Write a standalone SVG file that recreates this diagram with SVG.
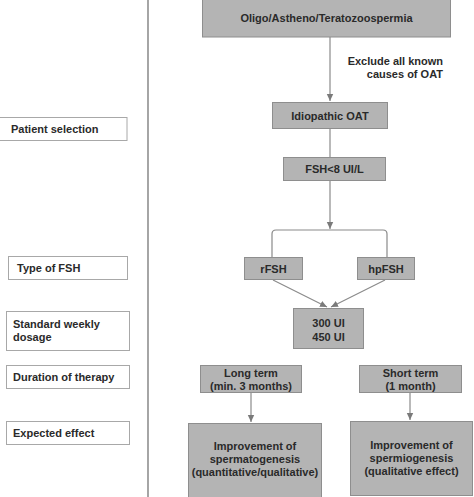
<svg xmlns="http://www.w3.org/2000/svg" width="474" height="497" viewBox="0 0 474 497">
<style>
.g{fill:#b4b4b4;stroke:#8e8e8e;stroke-width:1}
.w{fill:#fff;stroke:#a8a8a8;stroke-width:1}
text{font-family:"Liberation Sans",Arial,sans-serif;font-weight:bold;font-size:11px;fill:#2a2a2a}
.c{text-anchor:middle}
.e{fill:none;stroke:#8a8a8a;stroke-width:1.2}
</style>
<defs>
<marker id="ah" markerWidth="8" markerHeight="8" refX="7" refY="4" orient="auto" markerUnits="userSpaceOnUse">
<path d="M0,0.8 L7,4 L0,7.2 Z" fill="#7a7a7a"/>
</marker>
</defs>
<rect width="474" height="497" fill="#fff"/>
<line x1="148" y1="0" x2="148" y2="497" stroke="#6a6a6a" stroke-width="1.2"/>
<g id="connectors">
<line class="e" x1="330" y1="37" x2="330" y2="101" marker-end="url(#ah)"/>
<line class="e" x1="330" y1="129" x2="330" y2="157"/>
<line class="e" x1="330" y1="181" x2="330" y2="229" marker-end="url(#ah)"/>
<path class="e" d="M272,257 V234 Q272,230 276,230 H383 Q387,230 387,234 V257"/>
<line class="e" x1="273" y1="280" x2="327" y2="307" marker-end="url(#ah)"/>
<line class="e" x1="385" y1="280" x2="331" y2="307" marker-end="url(#ah)"/>
<line class="e" x1="251" y1="393" x2="251" y2="422" marker-end="url(#ah)"/>
<line class="e" x1="410" y1="393" x2="410" y2="420" marker-end="url(#ah)"/>
<text x="443" y="65" text-anchor="end">Exclude all known</text>
<text x="443" y="78" text-anchor="end">causes of OAT</text>
</g>
<g id="n-oat"><rect class="g" x="202.5" y="-1" width="248" height="38"/><text class="c" x="326.5" y="22">Oligo/Astheno/Teratozoospermia</text></g>
<g id="n-idio"><rect class="g" x="272.5" y="102.5" width="115" height="26"/><text class="c" x="330" y="119.5">Idiopathic OAT</text></g>
<g id="n-fsh"><rect class="g" x="283.5" y="157.5" width="102" height="23"/><text class="c" x="334.5" y="172.5">FSH&lt;8 UI/L</text></g>
<g id="n-rfsh"><rect class="g" x="244.5" y="257.5" width="58" height="22"/><text class="c" x="273.5" y="272.5">rFSH</text></g>
<g id="n-hpfsh"><rect class="g" x="357.5" y="257.5" width="57" height="22"/><text class="c" x="386" y="272.5">hpFSH</text></g>
<g id="n-dose"><rect class="g" x="293.5" y="308.5" width="70" height="40"/><text class="c" x="328.5" y="327">300 UI</text><text class="c" x="328.5" y="340.5">450 UI</text></g>
<g id="n-long"><rect class="g" x="200.5" y="365.5" width="101" height="27"/><text class="c" x="251" y="376.5">Long term</text><text class="c" x="251" y="389.5">(min. 3 months)</text></g>
<g id="n-short"><rect class="g" x="359.5" y="365.5" width="102" height="27"/><text class="c" x="410.5" y="376.5">Short term</text><text class="c" x="410.5" y="389.5">(1 month)</text></g>
<g id="n-eff1"><rect class="g" x="188.5" y="423.5" width="133" height="75"/><text class="c" x="255" y="450">Improvement of</text><text class="c" x="255" y="463">spermatogenesis</text><text class="c" x="255" y="476">(quantitative/qualitative)</text></g>
<g id="n-eff2"><rect class="g" x="350.5" y="421.5" width="122" height="74"/><text class="c" x="411.5" y="449">Improvement of</text><text class="c" x="411.5" y="462">spermiogenesis</text><text class="c" x="411.5" y="475">(qualitative effect)</text></g>
<g id="l-patient"><rect class="w" x="-1" y="117.5" width="128" height="23"/><text x="11" y="132.5">Patient selection</text></g>
<g id="l-type"><rect class="w" x="8.5" y="256.5" width="119" height="23"/><text x="17" y="272">Type of FSH</text></g>
<g id="l-dose"><rect class="w" x="6.5" y="311.5" width="123" height="39"/><text x="13" y="328">Standard weekly</text><text x="13" y="341">dosage</text></g>
<g id="l-dur"><rect class="w" x="6.5" y="365.5" width="123" height="23"/><text x="13" y="381">Duration of therapy</text></g>
<g id="l-eff"><rect class="w" x="6.5" y="421.5" width="123" height="23"/><text x="13" y="437">Expected effect</text></g>
</svg>
